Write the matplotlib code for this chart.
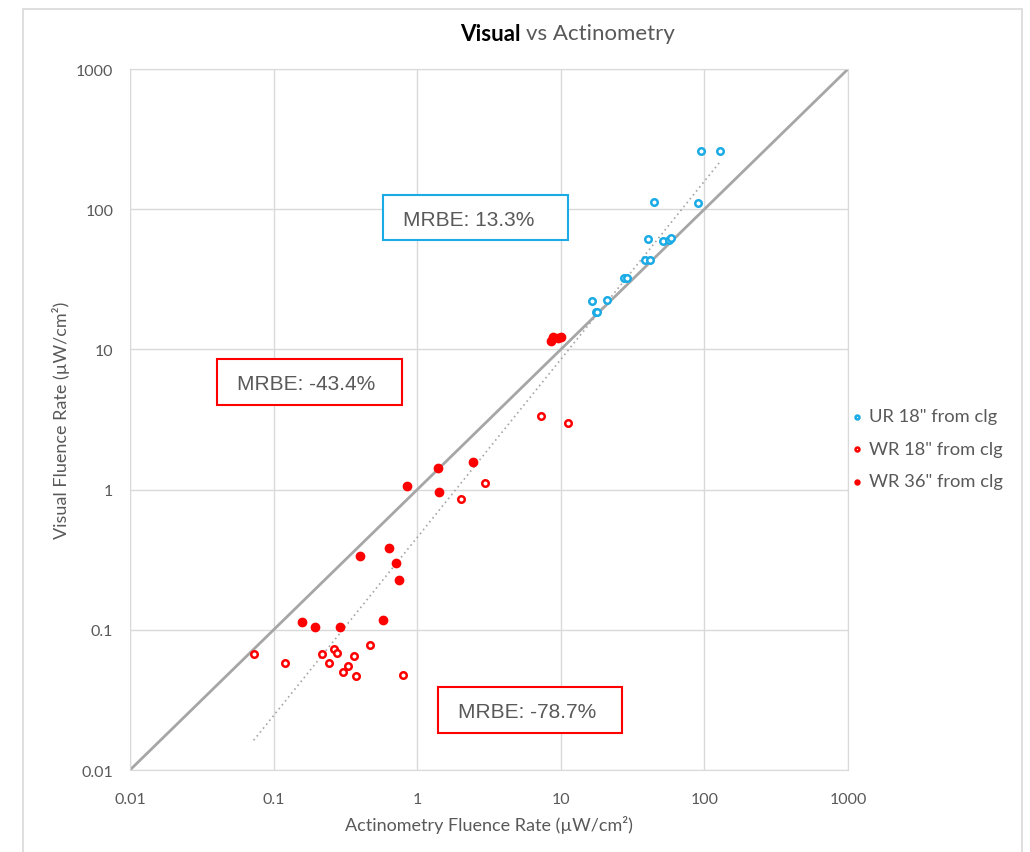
import numpy as np
import matplotlib.pyplot as plt
from matplotlib.patches import Rectangle

# UR 18" from clg (open blue)
ur18_x = [95, 128, 44.4, 90, 40.3, 51.5, 57, 58.8, 38.4, 41.6, 27.4, 28.8, 16.6, 21.0, 17.5, 17.9]
ur18_y = [259, 259, 112.5, 111, 61.6, 59.6, 60.3, 62.3, 43.4, 43.4, 32.1, 32.1, 22.1, 22.4, 18.4, 18.4]

# WR 18" from clg (open red)
wr18_x = [7.24, 11.2, 2.95, 2.01, 0.0726, 0.120, 0.216, 0.265, 0.278, 0.242, 0.363, 0.471, 0.328, 0.303, 0.373, 0.796]
wr18_y = [3.37, 3.0, 1.12, 0.853, 0.0668, 0.0582, 0.0668, 0.0730, 0.0680, 0.0577, 0.0654, 0.0775, 0.0555, 0.0500, 0.0466, 0.0474]

# WR 36" from clg (filled red)
wr36_x = [8.55, 8.83, 9.57, 10.0, 1.39, 2.46, 0.853, 1.43, 0.64, 0.711, 0.398, 0.750, 0.157, 0.194, 0.290, 0.581]
wr36_y = [11.5, 12.3, 12.1, 12.3, 1.43, 1.58, 1.055, 0.957, 0.385, 0.301, 0.338, 0.228, 0.113, 0.105, 0.105, 0.117]

ticks = [0.01, 0.1, 1, 10, 100, 1000]
tick_labels = ['0.01', '0.1', '1', '10', '100', '1000']

blue = '#1aabe6'
red = '#ff0000'
grey_txt = '#595959'
calibri = ['Lato', 'DejaVu Sans']

W, H = 1030, 853
fig = plt.figure(figsize=(10.3, 8.53), dpi=100)
ax = fig.add_axes([0.1262, 0.0961, 0.6971, 0.8218])

# chart border
fig.patches.append(Rectangle((23/W, -0.01), 999/W, 1 - 10/H + 0.01,
                             transform=fig.transFigure, fill=False,
                             edgecolor='#d9d9d9', lw=1.2))

ax.set_xscale('log')
ax.set_yscale('log')
ax.set_xlim(0.01, 1000)
ax.set_ylim(0.01, 1000)
ax.grid(True, which='major', color='#d9d9d9', lw=1)
ax.minorticks_off()
for s in ax.spines.values():
    s.set_color('#d9d9d9')
ax.tick_params(length=0, labelsize=11.5, labelcolor=grey_txt)
ax.tick_params(axis='x', pad=16)
ax.tick_params(axis='y', pad=12)
ax.set_xticks(ticks)
ax.set_xticklabels(tick_labels, family=calibri)
ax.set_yticks(ticks)
ax.set_yticklabels(tick_labels, family=calibri)

# 1:1 line
ax.plot([0.01, 1000], [0.01, 1000], color='#a6a6a6', lw=2, zorder=2)

# power trend line over all points
all_x = np.array(ur18_x + wr18_x + wr36_x)
all_y = np.array(ur18_y + wr18_y + wr36_y)
b, a = np.polyfit(np.log10(all_x), np.log10(all_y), 1)
tx = np.array([all_x.min(), all_x.max()])
ax.plot(tx, 10**a * tx**b, color='#a6a6a6', lw=1.2, ls=(0, (1, 2)), zorder=2)

ax.scatter(ur18_x, ur18_y, s=22, facecolors='white', edgecolors=blue, linewidths=1.8, zorder=3,
           label='UR 18" from clg')
ax.scatter(wr18_x, wr18_y, s=22, facecolors='white', edgecolors=red, linewidths=1.8, zorder=3,
           label='WR 18" from clg')
ax.scatter(wr36_x, wr36_y, s=36, color=red, zorder=3, label='WR 36" from clg')

leg = fig.legend(loc='center left', bbox_to_anchor=(0.805, 0.4725), frameon=False,
                 handletextpad=0.1, labelspacing=0.9, markerscale=0.6, handlelength=1.2,
                 prop={'family': calibri, 'size': 13.2})
for t in leg.get_texts():
    t.set_color(grey_txt)

ax.set_xlabel('Actinometry Fluence Rate (µW/cm²)', family=calibri, fontsize=13,
              color=grey_txt, labelpad=6)
ax.set_ylabel('Visual Fluence Rate (µW/cm²)', family=calibri, fontsize=13,
              color=grey_txt, labelpad=4)

# title: bold part + normal part
fig.text(0.505, 0.960, 'Visual', family=calibri, fontsize=16, fontweight='bold',
         color='black', ha='right', va='center')
fig.text(0.511, 0.960, 'vs Actinometry', family=calibri, fontsize=16,
         color=grey_txt, ha='left', va='center')

# MRBE annotations: box (x0, y0, x1, y1) in pixels, text, colour
boxes = [(383, 196, 568, 241, 'MRBE: 13.3%', blue),
         (217, 360, 402, 406, 'MRBE: -43.4%', red),
         (438, 688, 622, 734, 'MRBE: -78.7%', red)]
for x0, y0, x1, y1, txt, col in boxes:
    fig.patches.append(Rectangle((x0 / W, 1 - y1 / H), (x1 - x0) / W, (y1 - y0) / H,
                                 transform=fig.transFigure, fc='white', ec=col, lw=1.5,
                                 zorder=5))
    fig.text((x0 + 20) / W, 1 - ((y0 + y1) / 2 + 2) / H, txt, ha='left', va='center',
             fontsize=15, color=grey_txt, family='Liberation Sans', zorder=6)

plt.savefig('out.png', dpi=100)
